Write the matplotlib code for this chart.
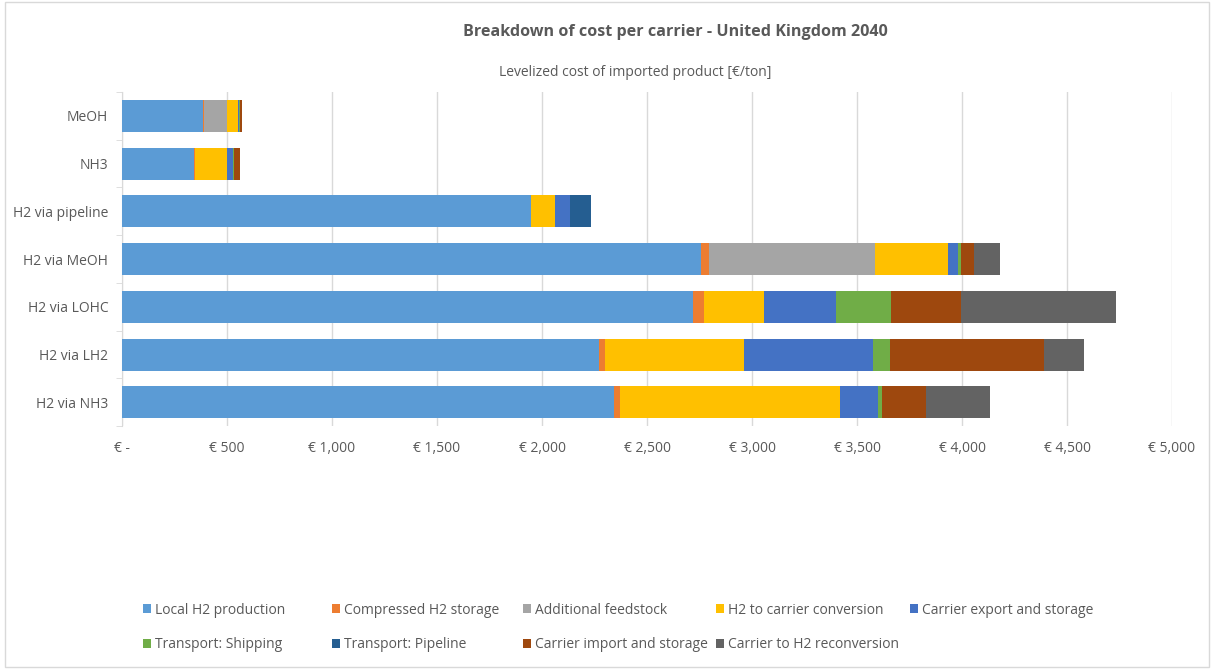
import matplotlib.pyplot as plt
from matplotlib.patches import Rectangle
from matplotlib.ticker import FuncFormatter

plt.rcParams['font.family'] = ['Open Sans', 'DejaVu Sans']

carriers = ["H2 via NH3", "H2 via LH2", "H2 via LOHC", "H2 via MeOH",
            "H2 via pipeline", "NH3", "MeOH"]

local_h2 = [2343, 2271, 2717, 2755, 1946, 343, 387]
compressed_h2 = [30, 28, 53, 38, 0, 5, 5]
feedstock = [0, 0, 0, 793, 0, 0, 109]
conversion = [1047, 664, 285, 345, 117, 153, 51]
export_storage = [178, 612, 346, 51, 70, 26, 7]
shipping = [21, 83, 263, 15, 0, 5, 2]
pipeline = [0, 0, 0, 0, 100, 0, 0]
import_storage = [209, 732, 329, 58, 0, 30, 10]
reconversion = [305, 189, 741, 125, 0, 0, 0]

series = [
    ("Local H2 production", local_h2, "#5B9BD5"),
    ("Compressed H2 storage", compressed_h2, "#ED7D31"),
    ("Additional feedstock", feedstock, "#A5A5A5"),
    ("H2 to carrier conversion", conversion, "#FFC000"),
    ("Carrier export and storage", export_storage, "#4472C4"),
    ("Transport: Shipping", shipping, "#70AD47"),
    ("Transport: Pipeline", pipeline, "#255E91"),
    ("Carrier import and storage", import_storage, "#9E480E"),
    ("Carrier to H2 reconversion", reconversion, "#636363"),
]

fig = plt.figure(figsize=(12.13, 6.69), dpi=100)
ax = fig.add_axes([0.1006, 0.363, 0.8656, 0.4995])

left = [0] * len(carriers)
for name, vals, color in series:
    ax.barh(carriers, vals, left=left, height=0.67, color=color,
            label=name, zorder=3)
    left = [a + b for a, b in zip(left, vals)]

ax.set_xlim(0, 5000)
ax.set_ylim(-0.5, len(carriers) - 0.5)
ax.set_xticks(range(0, 5001, 500))
ax.xaxis.set_major_formatter(FuncFormatter(
    lambda v, p: "€ -" if v == 0 else f"€ {int(v):,}"))
ax.grid(axis="x", color="#D9D9D9", linewidth=1, zorder=0)

for s in ["top", "right", "bottom"]:
    ax.spines[s].set_visible(False)
ax.spines["left"].set_color("#D9D9D9")

ax.tick_params(axis="x", length=0, labelsize=10, labelcolor="#595959", pad=11)
ax.tick_params(axis="y", length=0, labelsize=10, labelcolor="#595959", pad=10)
# category tick marks sit between the bars
ax.set_yticks([i - 0.5 for i in range(len(carriers) + 1)], minor=True)
ax.tick_params(axis="y", which="minor", length=4, color="#D9D9D9")

fig.text(0.557, 0.952, "Breakdown of cost per carrier - United Kingdom 2040",
         ha="center", va="center", fontsize=11.6, fontweight="bold",
         color="#595959")
fig.text(0.524, 0.892, "Levelized cost of imported product [€/ton]",
         ha="center", va="center", fontsize=10, color="#595959")

# legend: fixed-width columns, two rows, one legend per entry
handles, labels = ax.get_legend_handles_labels()
col_x = [143, 332, 523, 716, 910]
row_y = [610, 645]
for i, (h, lab) in enumerate(zip(handles, labels)):
    x = col_x[i % 5] / 1213
    y = 1 - row_y[i // 5] / 669
    fig.legend([h], [lab], loc="center left", bbox_to_anchor=(x, y),
               frameon=False, fontsize=10, labelcolor="#595959",
               handlelength=0.55, handleheight=0.55, handletextpad=0.3,
               borderpad=0, borderaxespad=0)

fig.patches.append(Rectangle((0.004, 0.003), 0.993, 0.994,
                             transform=fig.transFigure, fill=False,
                             edgecolor="#D9D9D9", linewidth=1))

fig.savefig("out.png", dpi=100)
